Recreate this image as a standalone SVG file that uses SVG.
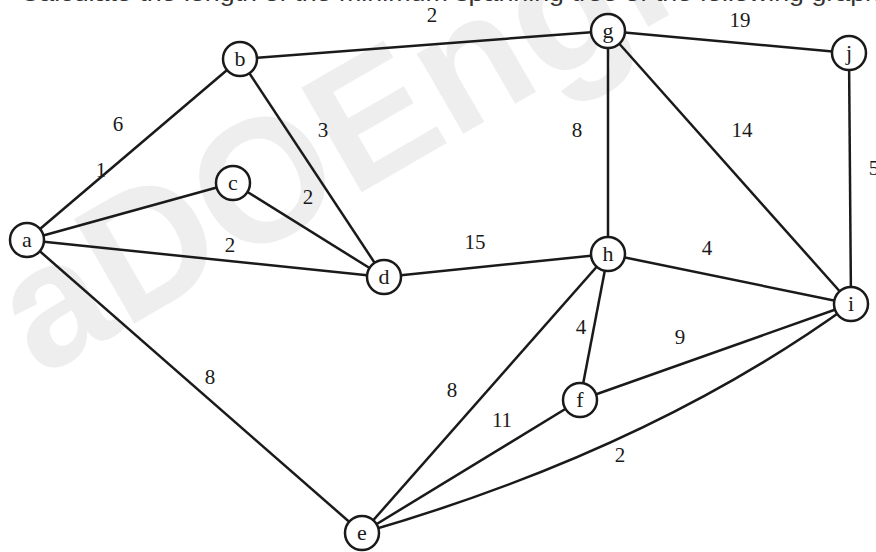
<svg xmlns="http://www.w3.org/2000/svg" width="876" height="552" viewBox="0 0 876 552">
<style>
.wm{font-family:"Liberation Sans",Arial,sans-serif;font-weight:bold;font-size:175px;fill:#eeeeee}
.cap{font-family:"Liberation Sans",Arial,sans-serif;font-size:22px;fill:#333}
.edge{stroke:#1a1a1a;stroke-width:2.5;fill:none}
.node circle{fill:#fff;stroke:#1a1a1a;stroke-width:2.5}
.node text{font-family:"Liberation Serif","Times New Roman",serif;font-size:22px;fill:#1a1a1a;text-anchor:middle}
.lbl{font-family:"Liberation Serif","Times New Roman",serif;font-size:21px;fill:#1a1a1a;text-anchor:middle}
</style>
<rect width="876" height="552" fill="#fff"/>
<text class="wm" x="40" y="378" transform="rotate(-30 40 378)">aDOEngi</text>
<text class="cap" x="20" y="1" textLength="860" lengthAdjust="spacingAndGlyphs">Calculate the length of the minimum spanning tree of the following graph</text>
<g id="connectors">
<line class="edge" x1="27" y1="240" x2="240" y2="59"/>
<line class="edge" x1="27" y1="240" x2="233" y2="183"/>
<line class="edge" x1="27" y1="240" x2="384" y2="277"/>
<line class="edge" x1="27" y1="240" x2="362" y2="533"/>
<line class="edge" x1="240" y1="59" x2="608" y2="31"/>
<line class="edge" x1="240" y1="59" x2="384" y2="277"/>
<line class="edge" x1="233" y1="183" x2="384" y2="277"/>
<line class="edge" x1="384" y1="277" x2="608" y2="254"/>
<line class="edge" x1="608" y1="31" x2="849" y2="53"/>
<line class="edge" x1="608" y1="31" x2="608" y2="254"/>
<line class="edge" x1="608" y1="31" x2="851" y2="304"/>
<line class="edge" x1="849" y1="53" x2="851" y2="304"/>
<line class="edge" x1="608" y1="254" x2="851" y2="304"/>
<line class="edge" x1="608" y1="254" x2="580" y2="400"/>
<line class="edge" x1="608" y1="254" x2="362" y2="533"/>
<line class="edge" x1="580" y1="400" x2="851" y2="304"/>
<line class="edge" x1="580" y1="400" x2="362" y2="533"/>
<path class="edge" d="M362 533 Q650 450 851 304"/>
</g>
<g id="labels">
<text class="lbl" x="432" y="22">2</text>
<text class="lbl" x="740" y="27">19</text>
<text class="lbl" x="118" y="131">6</text>
<text class="lbl" x="323" y="137">3</text>
<text class="lbl" x="577" y="137">8</text>
<text class="lbl" x="742" y="137">14</text>
<text class="lbl" x="874" y="175">5</text>
<text class="lbl" x="101" y="177">1</text>
<text class="lbl" x="308" y="204">2</text>
<text class="lbl" x="230" y="252">2</text>
<text class="lbl" x="475" y="249">15</text>
<text class="lbl" x="707" y="255">4</text>
<text class="lbl" x="581" y="334">4</text>
<text class="lbl" x="680" y="344">9</text>
<text class="lbl" x="210" y="384">8</text>
<text class="lbl" x="452" y="397">8</text>
<text class="lbl" x="502" y="427">11</text>
<text class="lbl" x="620" y="462">2</text>
</g>
<g id="node-a" class="node"><circle cx="27" cy="240" r="17"/><text x="27" y="247">a</text></g>
<g id="node-b" class="node"><circle cx="240" cy="59" r="17"/><text x="240" y="66">b</text></g>
<g id="node-c" class="node"><circle cx="233" cy="183" r="17"/><text x="233" y="190">c</text></g>
<g id="node-d" class="node"><circle cx="384" cy="277" r="17"/><text x="384" y="284">d</text></g>
<g id="node-e" class="node"><circle cx="362" cy="533" r="17"/><text x="362" y="540">e</text></g>
<g id="node-f" class="node"><circle cx="580" cy="400" r="17"/><text x="580" y="407">f</text></g>
<g id="node-g" class="node"><circle cx="608" cy="31" r="17"/><text x="608" y="38">g</text></g>
<g id="node-h" class="node"><circle cx="608" cy="254" r="17"/><text x="608" y="261">h</text></g>
<g id="node-i" class="node"><circle cx="851" cy="304" r="17"/><text x="851" y="311">i</text></g>
<g id="node-j" class="node"><circle cx="849" cy="53" r="17"/><text x="849" y="60">j</text></g>
</svg>
